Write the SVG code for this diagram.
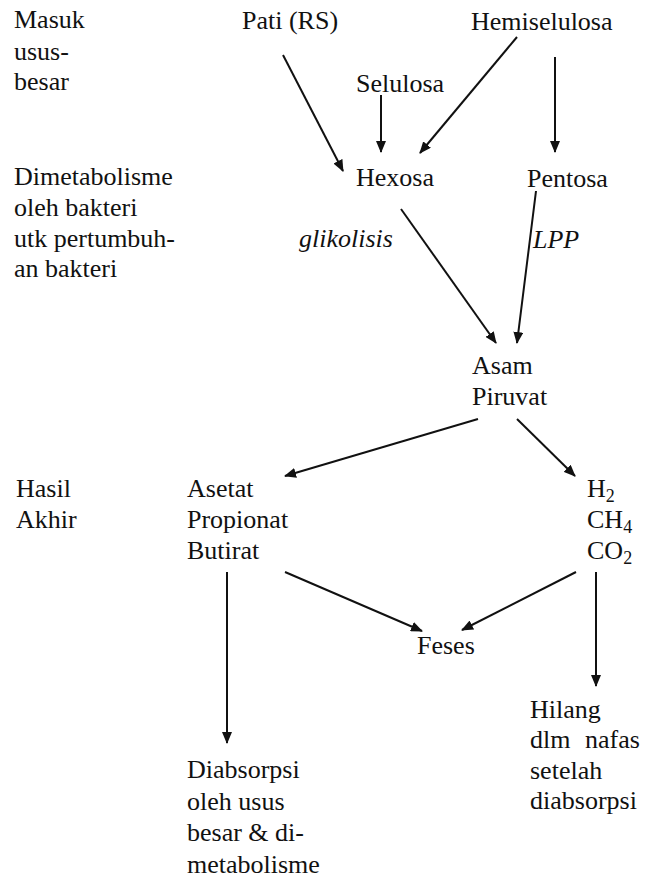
<svg xmlns="http://www.w3.org/2000/svg" width="652" height="878" viewBox="0 0 652 878">
<style>
text{font-family:"Liberation Serif","Times New Roman",serif;font-size:26px;fill:#111}
.it{font-style:italic}
.sub{font-size:18px}
.c line{stroke:#111;stroke-width:2;fill:none}
</style>
<defs>
<marker id="ah" viewBox="0 0 12 10" refX="11" refY="5" markerWidth="12" markerHeight="10" markerUnits="userSpaceOnUse" orient="auto">
<path d="M0,0 L12,5 L0,10 z" fill="#111"/>
</marker>
</defs>
<rect width="652" height="878" fill="#fff"/>
<g id="label-masuk"><text x="14" y="28">Masuk</text><text x="14" y="60">usus-</text><text x="14" y="90">besar</text></g>
<g id="label-dimetabolisme"><text x="14" y="185">Dimetabolisme</text><text x="14" y="216">oleh bakteri</text><text x="14" y="247">utk pertumbuh-</text><text x="14" y="277">an bakteri</text></g>
<g id="label-hasil"><text x="16" y="497">Hasil</text><text x="16" y="528">Akhir</text></g>
<g id="pati"><text x="242" y="29">Pati (RS)</text></g>
<g id="hemiselulosa"><text x="471" y="30">Hemiselulosa</text></g>
<g id="selulosa"><text x="356" y="92">Selulosa</text></g>
<g id="hexosa"><text x="356" y="186">Hexosa</text></g>
<g id="pentosa"><text x="527" y="187">Pentosa</text></g>
<g id="glikolisis"><text class="it" x="299" y="247">glikolisis</text></g>
<g id="lpp"><text class="it" x="533" y="248">LPP</text></g>
<g id="asam-piruvat"><text x="472" y="374">Asam</text><text x="472" y="405">Piruvat</text></g>
<g id="asam-lemak"><text x="187" y="497">Asetat</text><text x="187" y="528">Propionat</text><text x="187" y="559">Butirat</text></g>
<g id="gas"><text x="587" y="497">H<tspan class="sub" dy="5">2</tspan></text><text x="587" y="528">CH<tspan class="sub" dy="5">4</tspan></text><text x="587" y="559">CO<tspan class="sub" dy="5">2</tspan></text></g>
<g id="feses"><text x="417" y="654">Feses</text></g>
<g id="hilang"><text x="530" y="718">Hilang</text><text x="530" y="748" word-spacing="8">dlm nafas</text><text x="530" y="779">setelah</text><text x="530" y="809">diabsorpsi</text></g>
<g id="diabsorpsi"><text x="187" y="778">Diabsorpsi</text><text x="187" y="810">oleh usus</text><text x="187" y="841">besar &amp; di-</text><text x="187" y="873">metabolisme</text></g>
<g id="connectors" class="c">
<line x1="283" y1="55" x2="343" y2="171" marker-end="url(#ah)"/>
<line x1="381" y1="95" x2="381" y2="152" marker-end="url(#ah)"/>
<line x1="517" y1="37" x2="420" y2="153" marker-end="url(#ah)"/>
<line x1="555" y1="57" x2="555" y2="152" marker-end="url(#ah)"/>
<line x1="401" y1="209" x2="496" y2="343" marker-end="url(#ah)"/>
<line x1="536" y1="191" x2="517" y2="343" marker-end="url(#ah)"/>
<line x1="478" y1="419" x2="285" y2="476" marker-end="url(#ah)"/>
<line x1="517" y1="419" x2="575" y2="476" marker-end="url(#ah)"/>
<line x1="285" y1="572" x2="422" y2="631" marker-end="url(#ah)"/>
<line x1="576" y1="572" x2="462" y2="630" marker-end="url(#ah)"/>
<line x1="227" y1="572" x2="227" y2="743" marker-end="url(#ah)"/>
<line x1="596" y1="572" x2="596" y2="686" marker-end="url(#ah)"/>
</g>
</svg>
